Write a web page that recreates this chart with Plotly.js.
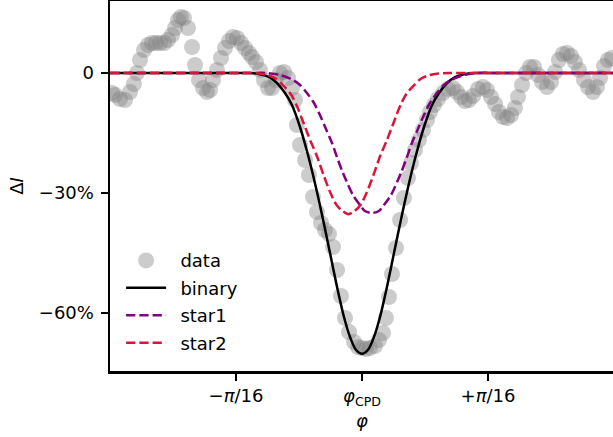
<!DOCTYPE html>
<html>
<head>
<meta charset="utf-8">
<script src="https://cdn.plot.ly/plotly-3.0.1.min.js"></script>
<style>
html,body{margin:0;padding:0;overflow:hidden;background:#fff;}
#chart{width:616px;height:437px;}
</style>
</head>
<body>
<div id="chart"></div>
<script>
// phase offset in units of pi/16, intensity change in %
var phiData = [-1.984,-1.960,-1.921,-1.881,-1.841,-1.810,-1.786,-1.762,-1.730,-1.698,-1.667,-1.635,-1.603,-1.571,-1.540,-1.508,-1.484,-1.460,-1.437,-1.413,-1.381,-1.349,-1.325,-1.294,-1.262,-1.230,-1.206,-1.183,-1.151,-1.119,-1.087,-1.056,-1.024,-0.992,-0.960,-0.929,-0.897,-0.873,-0.841,-0.810,-0.778,-0.746,-0.714,-0.683,-0.651,-0.619,-0.587,-0.556,-0.532,-0.516,-0.492,-0.452,-0.421,-0.389,-0.357,-0.325,-0.294,-0.262,-0.230,-0.198,-0.167,-0.135,-0.103,-0.063,-0.032,0.000,0.032,0.063,0.103,0.135,0.167,0.190,0.214,0.238,0.270,0.302,0.333,0.365,0.389,0.421,0.452,0.484,0.516,0.540,0.571,0.603,0.643,0.683,0.722,0.754,0.786,0.817,0.849,0.881,0.921,0.960,0.992,1.024,1.056,1.087,1.119,1.151,1.183,1.214,1.238,1.270,1.302,1.333,1.365,1.397,1.429,1.468,1.500,1.532,1.563,1.595,1.627,1.659,1.690,1.722,1.762,1.794,1.833,1.865,1.889,1.921,1.952,1.984];
var dIData = [-5,-5.5,-6.5,-6.75,-4.75,-2.75,0,3.25,5.75,7,7.5,7.5,7.5,7.5,8.25,9.5,11.25,13.25,14,13.75,11.25,6.5,2,-1.75,-3.75,-4.75,-4.25,-1.75,0.75,3.75,6.25,8,9,8.75,7.5,6.25,5,4,2.75,0.75,-1.75,-3.75,-3.75,-1.75,0,0.25,-1.25,-3.75,-6.75,-13,-18,-21.75,-25.5,-31,-34.75,-37.5,-39.25,-40.25,-43.5,-49.25,-55.75,-61.25,-64.75,-67.25,-68.5,-68.75,-69,-68.75,-68.25,-66.75,-65,-61.25,-56,-50.25,-43.75,-36.75,-31.25,-26.25,-22.5,-19.25,-16.75,-14.25,-11.75,-9.75,-8,-6.5,-5,-4,-3.75,-4.75,-6,-7,-6.75,-5.75,-4,-3.5,-4.25,-6,-7.75,-9.75,-11,-11.25,-10.5,-8.75,-6,-3,0,1.5,1.5,-0.5,-2.25,-3.5,-2.25,0.25,3.25,4.75,5,4.25,2.75,0.75,-1.75,-3.5,-4.75,-3.5,-1.25,1.75,3.25,3.75];

var phiBinary = [-2.0,-1.5,-1.2,-1.0,-0.889,-0.810,-0.738,-0.675,-0.611,-0.556,-0.492,-0.437,-0.381,-0.317,-0.254,-0.198,-0.143,-0.095,-0.048,0,0.048,0.095,0.143,0.198,0.254,0.317,0.381,0.437,0.492,0.556,0.611,0.675,0.738,0.810,0.889,1.0,1.2,1.5,2.0];
var dIBinary = [0,0,0,0,0,-0.3,-1,-2.5,-5,-8,-13.5,-19.5,-26.5,-35.5,-45,-53.5,-61,-66,-69.2,-70.2,-69.2,-66,-61,-53.5,-45,-35.5,-26.5,-19.5,-13.5,-8,-5,-2.5,-1,-0.3,0,0,0,0,0];

var phiStar1 = [-2.0,-1.5,-1.1,-0.9,-0.754,-0.651,-0.548,-0.492,-0.437,-0.381,-0.334,-0.286,-0.238,-0.199,-0.151,-0.072,-0.016,0.023,0.079,0.135,0.174,0.230,0.309,0.357,0.396,0.444,0.492,0.539,0.595,0.650,0.706,0.809,0.912,1.1,1.5,2.0];
var dIStar1 = [0,0,0,0,0,-0.5,-1.75,-3,-5,-7.5,-10.5,-14,-17.5,-21,-25,-30.5,-33,-34.5,-35,-34.5,-33,-30.5,-25,-21,-17.5,-14,-10.5,-7.5,-5,-3,-1.75,-0.5,0,0,0,0];

var phiStar2 = [-2.0,-1.5,-1.2,-1.0,-0.901,-0.821,-0.742,-0.678,-0.623,-0.567,-0.520,-0.464,-0.409,-0.361,-0.305,-0.250,-0.202,-0.155,-0.107,-0.059,-0.012,0.036,0.091,0.147,0.195,0.250,0.306,0.353,0.409,0.464,0.528,0.607,0.687,0.9,1.2,1.5,2.0];
var dIStar2 = [0,0,0,0,0,-0.15,-0.6,-1.5,-3.2,-5.2,-8,-12.5,-17,-20.5,-25.5,-30,-33,-34.5,-35.3,-34.5,-33,-30,-25.5,-20.5,-17,-12.5,-8,-5.2,-3.2,-1.5,-0.6,-0.15,0,0,0,0,0];

var xTickVals = [-1, 0, 1];
var xTickText = ['\u2212<i>\u03c0</i>/16', '<i>\u03c6</i><sub>CPD</sub>', '+<i>\u03c0</i>/16'];
var yTickVals = [0, -30, -60];
var yTickText = ['0', '\u221230%', '\u221260%'];
var seriesNames = ['data', 'binary', 'star1', 'star2'];

var FONT = 'DejaVu Sans, Arial, sans-serif';
var FS = 18;
var pad = '\u00a0\u2009';

var traces = [
  {x: phiData, y: dIData, type: 'scatter', mode: 'markers', name: pad + seriesNames[0], legendgroup: 'g1',
   marker: {size: 16, color: 'rgba(128,128,128,0.4)', line: {width: 0}}},
  {x: phiBinary, y: dIBinary, type: 'scatter', mode: 'lines', name: pad + seriesNames[1], legendgroup: 'g2',
   line: {color: '#000000', width: 2.5, shape: 'spline', smoothing: 0.8}},
  {x: phiStar1, y: dIStar1, type: 'scatter', mode: 'lines', name: pad + seriesNames[2], legendgroup: 'g3',
   line: {color: '#800080', width: 2.5, dash: '9.25px,4px', shape: 'spline', smoothing: 0.8}},
  {x: phiStar2, y: dIStar2, type: 'scatter', mode: 'lines', name: pad + seriesNames[3], legendgroup: 'g4',
   line: {color: '#DC143C', width: 2.5, dash: '9.25px,4px', shape: 'spline', smoothing: 0.8}}
];

var layout = {
  width: 616, height: 437,
  margin: {l: 110, r: 2, t: 1, b: 66},
  paper_bgcolor: '#fff', plot_bgcolor: '#fff',
  font: {family: FONT, size: FS, color: '#000'},
  showlegend: true,
  legend: {x: 0.022, y: 0.348, xanchor: 'left', yanchor: 'top', bgcolor: 'rgba(0,0,0,0)',
           borderwidth: 0, font: {family: FONT, size: FS, color: '#000'},
           traceorder: 'grouped', tracegroupgap: 1, itemwidth: 40},
  xaxis: {range: [-2, 2], showgrid: false, zeroline: false, showline: true, linecolor: '#000', linewidth: 2.5,
          mirror: true, ticks: 'outside', ticklen: 7, tickwidth: 1.6, tickcolor: '#000',
          tickvals: xTickVals, ticktext: xTickText, tickfont: {family: FONT, size: FS},
          title: {text: '<i>\u03c6</i>', font: {family: FONT, size: FS}, standoff: 7}},
  yaxis: {range: [-74.5, 18], showgrid: false, zeroline: false, showline: true, linecolor: '#000', linewidth: 2.5,
          mirror: true, ticks: 'outside', ticklen: 7, tickwidth: 1.6, tickcolor: '#000',
          ticklabelstandoff: 3,
          tickvals: yTickVals, ticktext: yTickText, tickfont: {family: FONT, size: FS},
          title: {text: '\u0394<i>I</i>', font: {family: FONT, size: FS}, standoff: 11}}
};

Plotly.newPlot('chart', traces, layout, {displayModeBar: false, staticPlot: true});
</script>
</body>
</html>
